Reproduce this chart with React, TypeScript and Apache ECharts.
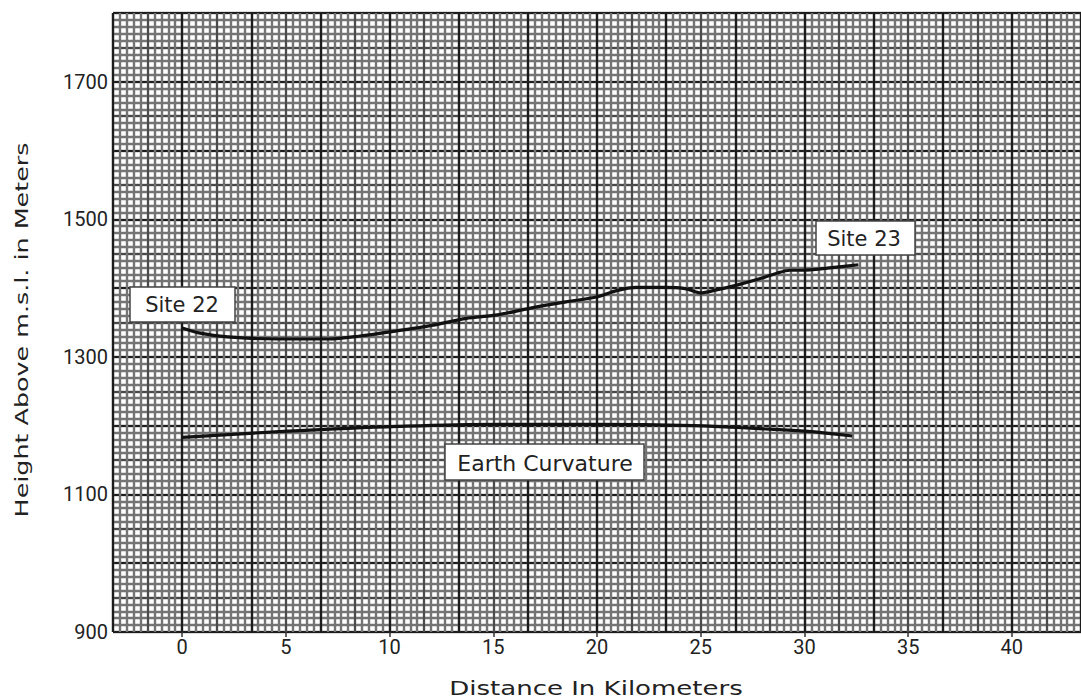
import React, { useEffect, useRef } from "react";
import * as echarts from "echarts";

// Terrain profile between Site 22 and Site 23
const profileKm = [0, 0.8, 2.2, 4.6, 7.1, 8.5, 10.2, 11.9, 13.7, 15.2, 16.8, 18.5, 20.0, 20.9, 21.9, 23.3, 24.3, 25.0, 25.7, 26.7, 28.0, 28.7, 29.3, 29.9, 31.1, 32.6];
const profileM = [1342, 1335, 1329, 1326, 1326, 1330, 1337, 1345, 1356, 1361, 1371, 1380, 1387, 1396, 1401, 1401, 1399, 1393, 1397, 1404, 1415, 1422, 1426, 1426, 1429, 1434];

// Earth curvature line
const curveKm = [0, 5.1, 10.4, 15.2, 20.0, 24.7, 27.6, 30.0, 32.3];
const curveM = [1183, 1192, 1199, 1202, 1202, 1200, 1196, 1192, 1185];

// Axis ticks
const xTicks = [0, 5, 10, 15, 20, 25, 30, 35, 40];
const yTicks = [900, 1100, 1300, 1500, 1700];

const X_MIN = -10 / 3;
const X_MAX = 130 / 3;
const Y_MIN = 900;
const Y_MAX = 1800;

// graph paper units (1/3 km per fine square)
const PAPER_X_MIN = -10;
const PAPER_X_MAX = 130;

const FONT = "DejaVu Sans";
const LABEL_FONT = "Roboto";

export default function App() {
  const ref = useRef<HTMLDivElement>(null);

  useEffect(() => {
    if (!ref.current) return;
    const chart = echarts.init(ref.current, undefined, { renderer: "svg" });

    const paperX = (interval: number, color: string, width: number) => ({
      type: "value",
      min: PAPER_X_MIN,
      max: PAPER_X_MAX,
      interval,
      show: true,
      position: "bottom",
      axisLine: { show: false },
      axisTick: { show: false },
      axisLabel: { show: false },
      splitLine: { show: true, lineStyle: { color, width } },
    });
    const paperY = (interval: number, color: string, width: number) => ({
      type: "value",
      min: Y_MIN,
      max: Y_MAX,
      interval,
      show: true,
      position: "left",
      axisLine: { show: false },
      axisTick: { show: false },
      axisLabel: { show: false },
      splitLine: { show: true, lineStyle: { color, width } },
    });

    const toPairs = (xs: number[], ys: number[]) => xs.map((x, i) => [x, ys[i]]);

    chart.setOption({
      animation: false,
      backgroundColor: "#ffffff",
      grid: { left: 113, top: 13, width: 975, height: 619 },
      xAxis: [
        {
          type: "value",
          min: X_MIN,
          max: X_MAX,
          position: "bottom",
          axisLine: { show: false },
          axisTick: { show: true, customValues: xTicks, length: 5, lineStyle: { color: "#333", width: 1.5 } },
          axisLabel: {
            customValues: xTicks,
            formatter: (v: number) => String(v),
            fontFamily: LABEL_FONT,
            fontSize: 20,
            color: "#222",
            margin: 5,
          },
          splitLine: { show: false },
        },
        paperX(1, "#747474", 2.4),
        paperX(5, "#484848", 1.8),
        paperX(10, "#1c1c1c", 2.2),
      ],
      yAxis: [
        {
          type: "value",
          min: Y_MIN,
          max: Y_MAX,
          position: "left",
          axisLine: { show: false },
          axisTick: { show: false },
          axisLabel: {
            customValues: yTicks,
            formatter: (v: number) => String(v),
            fontFamily: LABEL_FONT,
            fontSize: 20,
            color: "#222",
            margin: 5,
          },
          splitLine: { show: false },
        },
        paperY(10, "#747474", 2.4),
        paperY(50, "#484848", 1.8),
        paperY(100, "#1c1c1c", 2.2),
      ],
      series: [
        {
          type: "line",
          name: "Profile",
          xAxisIndex: 0,
          yAxisIndex: 0,
          data: toPairs(profileKm, profileM),
          smooth: 0.25,
          showSymbol: false,
          lineStyle: { color: "#111", width: 3.2 },
          z: 5,
        },
        {
          type: "line",
          name: "Earth Curvature",
          xAxisIndex: 0,
          yAxisIndex: 0,
          data: toPairs(curveKm, curveM),
          smooth: 0.4,
          showSymbol: false,
          lineStyle: { color: "#111", width: 3.2 },
          z: 5,
        },
      ],
      graphic: [
        { type: "rect", z: 20, shape: { x: 130, y: 287, width: 105, height: 35 }, style: { fill: "#fff", stroke: "#444", lineWidth: 1.5 } },
        { type: "text", z: 21, x: 182, y: 305, style: { text: "Site 22", font: `21px '${FONT}'`, fill: "#222", textAlign: "center", textVerticalAlign: "middle" } },
        { type: "rect", z: 20, shape: { x: 816, y: 221, width: 99, height: 34 }, style: { fill: "#fff", stroke: "#444", lineWidth: 1.5 } },
        { type: "text", z: 21, x: 864, y: 239, style: { text: "Site 23", font: `21px '${FONT}'`, fill: "#222", textAlign: "center", textVerticalAlign: "middle" } },
        { type: "rect", z: 20, shape: { x: 445, y: 444, width: 199, height: 36 }, style: { fill: "#fff", stroke: "#444", lineWidth: 1.5 } },
        { type: "text", z: 21, x: 545, y: 463, style: { text: "Earth Curvature", font: `22px '${FONT}'`, fill: "#222", textAlign: "center", textVerticalAlign: "middle" } },
        {
          type: "text",
          z: 21,
          x: 596,
          y: 688,
          scaleX: 1.37,
          style: { text: "Distance In Kilometers", font: `19px '${FONT}'`, fill: "#222", textAlign: "center", textVerticalAlign: "middle" },
        },
        {
          type: "text",
          z: 21,
          x: 22,
          y: 330,
          rotation: Math.PI / 2,
          scaleX: 1.41,
          style: { text: "Height Above m.s.l. in Meters", font: `18px '${FONT}'`, fill: "#222", textAlign: "center", textVerticalAlign: "middle" },
        },
      ],
    });

    return () => chart.dispose();
  }, []);

  return <div ref={ref} style={{ position: "absolute", left: 0, top: 0, width: 1081, height: 699 }} />;
}
